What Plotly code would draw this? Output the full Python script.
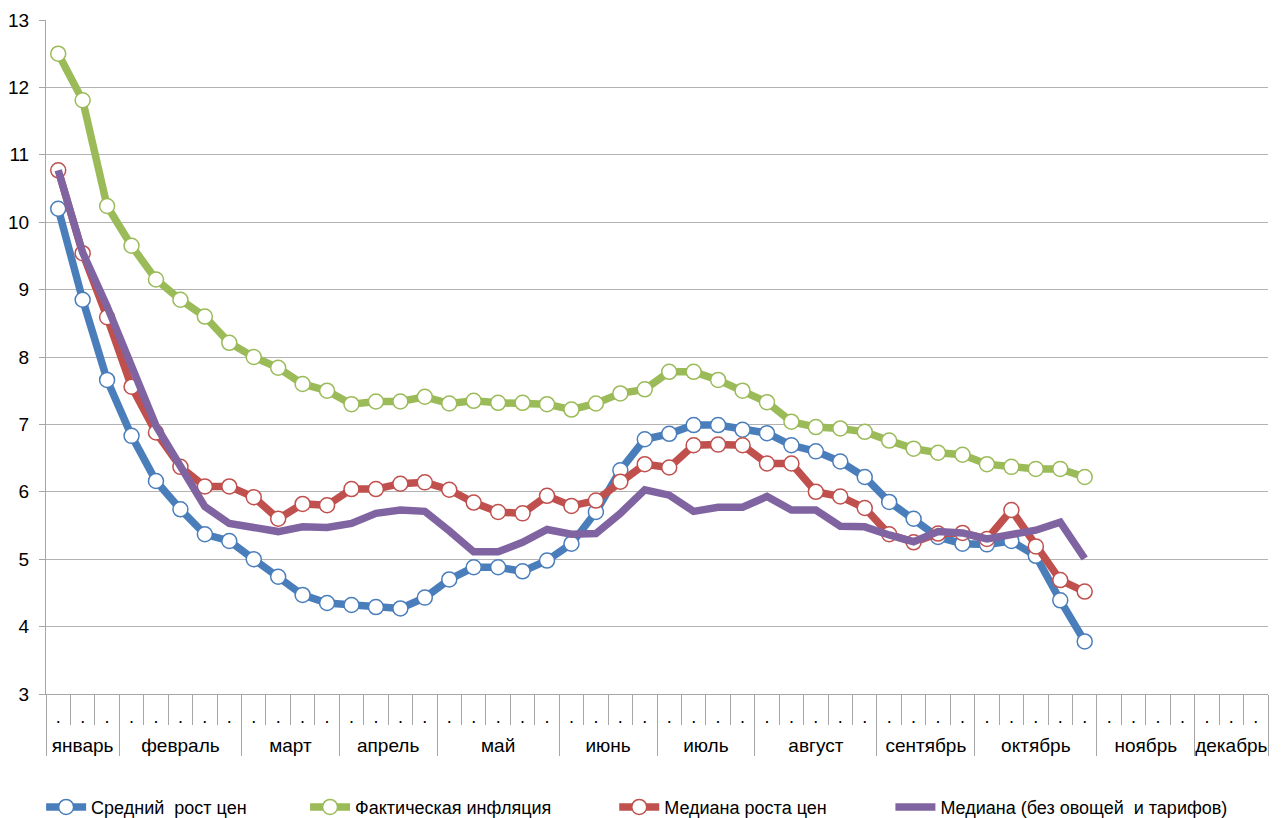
import plotly.graph_objects as go

months = ["январь", "февраль", "март", "апрель", "май", "июнь", "июль",
          "август", "сентябрь", "октябрь", "ноябрь", "декабрь"]
weeks_per_month = [3, 5, 4, 4, 5, 4, 4, 5, 4, 5, 4, 3]
week_label = "."

avg_growth = [10.20, 8.85, 7.66, 6.83, 6.16, 5.74, 5.37, 5.27, 5.00, 4.74,
              4.47, 4.35, 4.32, 4.29, 4.27, 4.43, 4.70, 4.88, 4.88, 4.82,
              4.98, 5.23, 5.70, 6.32, 6.78, 6.86, 6.99, 6.99, 6.92, 6.87,
              6.69, 6.60, 6.45, 6.22, 5.85, 5.60, 5.33, 5.23, 5.22, 5.27,
              5.05, 4.39, 3.78]
actual_infl = [12.50, 11.81, 10.24, 9.65, 9.15, 8.85, 8.60, 8.21, 8.00, 7.84,
               7.60, 7.50, 7.30, 7.34, 7.34, 7.41, 7.31, 7.35, 7.32, 7.32,
               7.30, 7.22, 7.31, 7.46, 7.52, 7.78, 7.78, 7.66, 7.50, 7.33,
               7.04, 6.96, 6.94, 6.89, 6.76, 6.64, 6.58, 6.55, 6.41, 6.37,
               6.34, 6.34, 6.22]
median_growth = [10.77, 9.54, 8.59, 7.56, 6.88, 6.37, 6.08, 6.08, 5.92, 5.60,
                 5.82, 5.80, 6.04, 6.04, 6.12, 6.14, 6.03, 5.84, 5.70, 5.68,
                 5.94, 5.79, 5.87, 6.15, 6.41, 6.36, 6.69, 6.70, 6.69, 6.42,
                 6.42, 6.00, 5.93, 5.76, 5.37, 5.25, 5.38, 5.39, 5.30, 5.73,
                 5.19, 4.69, 4.52]
median_core = [10.77, 9.55, 8.75, 7.85, 6.98, 6.38, 5.78, 5.53, 5.46, 5.41,
               5.48, 5.47, 5.53, 5.68, 5.73, 5.71, 5.42, 5.11, 5.11, 5.25,
               5.44, 5.37, 5.38, 5.68, 6.03, 5.95, 5.71, 5.77, 5.77, 5.93,
               5.73, 5.73, 5.49, 5.48, 5.36, 5.26, 5.41, 5.39, 5.30, 5.37,
               5.43, 5.55, 5.01]

series_names = ["Средний\u00a0 рост цен", "Фактическая инфляция",
                "Медиана роста цен", "Медиана (без овощей\u00a0 и тарифов)"]
series_colors = ["#4A7EBB", "#9BBB59", "#C0504D", "#8064A2"]
series_markers = [True, True, True, False]
series_data = [avg_growth, actual_infl, median_growth, median_core]
legend_x = [-0.004, 0.212, 0.465, 0.691]

# category positions (weeks) and month groups
n_total = sum(weeks_per_month)
week_pos = list(range(n_total))
week_bounds = [i - 0.5 for i in range(n_total + 1)]
month_bounds = [-0.5]
for n in weeks_per_month:
    month_bounds.append(month_bounds[-1] + n)
month_centers = [(a + b) / 2 for a, b in zip(month_bounds[:-1], month_bounds[1:])]
xrange = [-0.5, n_total - 0.5]

FONT = "Liberation Sans, Arial, sans-serif"
AXC = "#A6A6A6"
fig = go.Figure()
for i, (name, color, mk, vals) in enumerate(zip(series_names, series_colors,
                                                 series_markers, series_data)):
    lg = "legend" if i == 0 else f"legend{i+1}"
    fig.add_trace(go.Scatter(
        x=week_pos[:len(vals)], y=vals, name=name,
        mode="lines+markers" if mk else "lines",
        line=dict(color=color, width=7.5),
        marker=dict(symbol="circle", size=15, color="white",
                    line=dict(color=color, width=1.5)),
        legend=lg,
    ))

# invisible helper traces so overlay axes are drawn
for ax in ["x2", "x3", "x4"]:
    fig.add_trace(go.Scatter(x=[None], y=[None], xaxis=ax, yaxis="y",
                             showlegend=False, hoverinfo="skip",
                             mode="markers"))

legends = {}
for i, lx in enumerate(legend_x):
    key = "legend" if i == 0 else f"legend{i+1}"
    legends[key] = dict(orientation="h", x=lx, xanchor="left",
                        y=-0.168, yanchor="middle",
                        font=dict(family=FONT, size=18, color="#000"),
                        bgcolor="rgba(0,0,0,0)", itemwidth=40)

common = dict(range=xrange, showgrid=False, zeroline=False, fixedrange=True,
              automargin=False)

fig.update_layout(
    width=1281, height=818,
    margin=dict(l=46, r=13, t=20, b=124, autoexpand=False),
    paper_bgcolor="white", plot_bgcolor="white",
    font=dict(family=FONT, size=18, color="#000"),
    showlegend=True,
    xaxis=dict(**common, showline=True, linecolor=AXC, linewidth=1,
               tickmode="array", tickvals=week_bounds,
               ticks="outside", ticklen=30, tickcolor=AXC, tickwidth=1,
               showticklabels=False),
    xaxis2=dict(**common, overlaying="x", side="bottom", anchor="y",
                showline=False, tickmode="array", tickvals=week_pos,
                ticktext=[week_label] * n_total, ticks="",
                tickfont=dict(family=FONT, size=18, color="#000"),
                ticklabelstandoff=10),
    xaxis3=dict(**common, overlaying="x", side="bottom", anchor="y",
                showline=False, tickmode="array", tickvals=month_bounds,
                ticks="outside", ticklen=61, tickcolor=AXC, tickwidth=1,
                showticklabels=False),
    xaxis4=dict(**common, overlaying="x", side="bottom", anchor="y",
                showline=False, tickmode="array", tickvals=month_centers,
                ticktext=months, ticks="",
                tickfont=dict(family=FONT, size=19, color="#000"),
                ticklabelstandoff=38),
    yaxis=dict(range=[3, 13], dtick=1, showgrid=True, gridcolor="#B3B3B3",
               gridwidth=1, zeroline=False, showline=True,
               linecolor=AXC, ticks="outside", ticklen=6,
               tickcolor=AXC, fixedrange=True, automargin=False,
               tickfont=dict(family=FONT, size=19, color="#000"),
               ticklabelstandoff=6),
    **legends,
)

fig.write_html("out.html",
               config={"displayModeBar": False},
               post_script="document.body.style.margin='0';"
                           "document.body.style.overflow='hidden';")
